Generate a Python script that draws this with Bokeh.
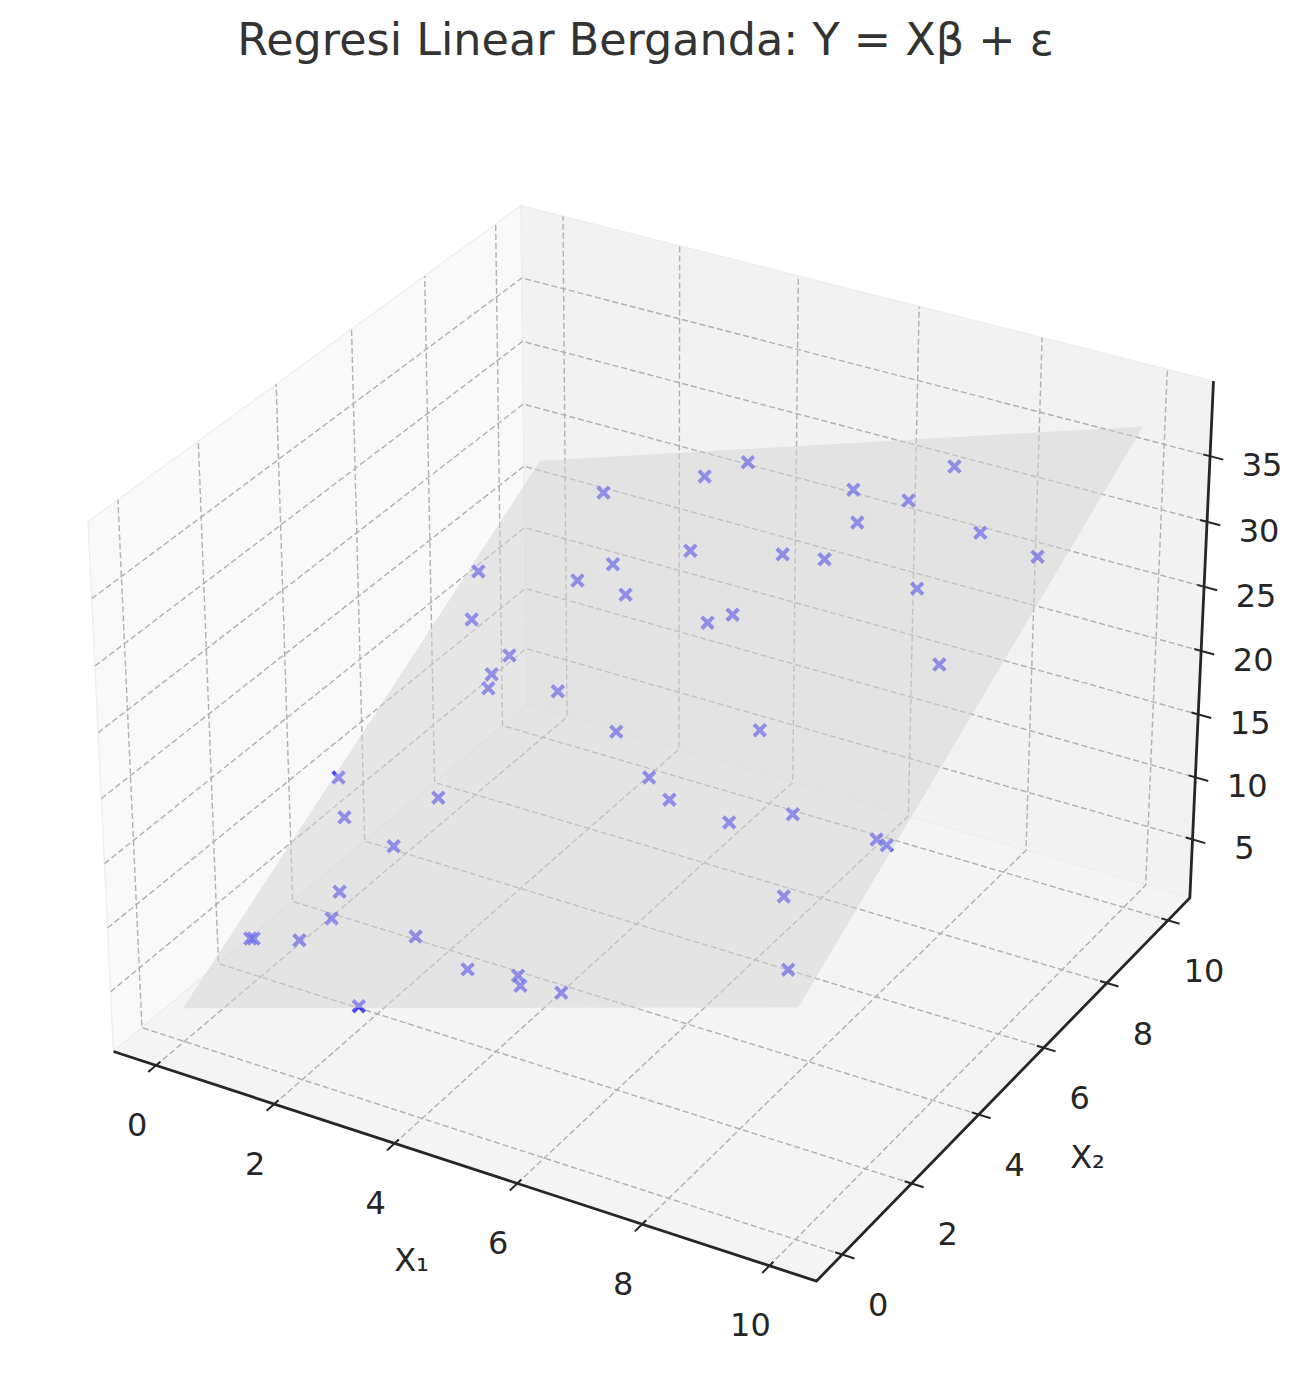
import numpy as np
from bokeh.plotting import figure
from bokeh.embed import file_html
from bokeh.resources import INLINE
from bokeh.core.properties import value

TITLE = "Regresi Linear Berganda: Y = Xβ + ε"
X_LABEL = "X₁"
Y_LABEL = "X₂"
x_ticks = [0, 2, 4, 6, 8, 10]
y_ticks = [0, 2, 4, 6, 8, 10]
z_ticks = [5, 10, 15, 20, 25, 30, 35]

x1 = [7.30,3.73,3.13,1.52,5.84,6.88,6.25,8.39,9.55,3.70,5.32,6.08,2.50,0.19,2.06,3.06,7.91,5.11,4.77,0.63,
      1.71,1.61,1.71,2.95,9.01,4.38,6.75,0.09,5.41,2.06,5.97,0.65,7.17,8.11,1.83,9.67,9.88,1.40,8.75,1.56,
      0.38,0.44,1.25,3.18,4.39,5.28,5.42,6.15,9.50,2.97]
x2 = [9.44,9.74,9.51,9.30,9.10,8.84,8.47,8.17,7.68,8.09,7.94,7.81,7.90,7.88,7.62,7.31,7.19,6.85,6.72,6.96,
      6.25,5.91,5.65,5.55,5.80,4.78,4.73,4.08,3.94,3.67,3.54,3.35,3.12,3.24,2.81,2.78,2.68,2.02,1.84,1.55,
      1.21,1.21,1.17,1.22,0.65,0.54,0.37,0.25,0.62,0.03]
y_obs = [32.73,27.98,26.62,23.78,29.86,30.90,29.22,31.83,32.59,24.63,26.76,27.64,22.45,18.95,21.23,22.11,29.15,24.27,23.50,17.77,
         17.97,17.14,16.77,18.43,28.02,19.03,22.49,11.20,18.90,13.33,18.94,10.58,19.90,21.55,11.27,22.97,23.08,9.04,19.71,8.34,
         5.89,5.98,7.12,10.11,10.79,11.90,11.77,12.63,18.39,7.42]

plane_x1 = [0, 10, 10, 0]
plane_x2 = [0, 0, 10, 10]
plane_y = [2.9, 17.9, 37.9, 22.9]

XL = (-0.729, 10.729)
YL = (-0.729, 10.729)
ZL = (0.25, 40.65)

# camera of a default 3D view: elevation 30, azimuth -60, box aspect 4:4:3
box = np.array([4, 4, 3.0]) * 1.8294640721620434 * 25 / 24 / np.sqrt(41)
u = np.array([np.cos(np.pi / 6), 0.5, 0])
w = np.array([np.cos(np.pi / 6) * 0.5, -0.75, 0.5])
v = np.cross(w, u)

def project(x, y, z):
    x, y, z = np.broadcast_arrays(np.asarray(x, float), np.asarray(y, float), np.asarray(z, float))
    q = np.stack([(x - XL[0]) / (XL[1] - XL[0]) - 0.5,
                  (y - YL[0]) / (YL[1] - YL[0]) - 0.5,
                  (z - ZL[0]) / (ZL[1] - ZL[0]) - 0.5], axis=-1) * box
    d = 10 - q @ w
    return 661.1 + 6764 * (q @ u) / d, 717 - 6764 * (q @ v) / d

p = figure(width=1288, height=1364, x_range=(0, 1288), y_range=(1364, 0),
           x_axis_location=None, y_axis_location=None, min_border=0,
           output_backend="svg", toolbar_location=None, outline_line_color=None,
           background_fill_color="white", border_fill_color="white")
p.grid.visible = False

x0, x1m = XL; y0, y1m = YL; z0, z1m = ZL
# panes
panes = [
    ([x0, x0, x0, x0], [y0, y1m, y1m, y0], [z0, z0, z1m, z1m], "#f9f9f9"),
    ([x0, x1m, x1m, x0], [y1m, y1m, y1m, y1m], [z0, z0, z1m, z1m], "#f2f2f2"),
    ([x0, x1m, x1m, x0], [y0, y0, y1m, y1m], [z0, z0, z0, z0], "#f4f4f4"),
]
for a, b, c, col in panes:
    sx, sy = project(a, b, c)
    p.patch(list(sx), list(sy), fill_color=col, line_color="#eeeeee", line_width=1.4)

# grid
gx, gy = [], []
for t in x_ticks:
    sx, sy = project([t, t, t], [y0, y1m, y1m], [z0, z0, z1m]); gx.append(list(sx)); gy.append(list(sy))
for t in y_ticks:
    sx, sy = project([x1m, x0, x0], [t, t, t], [z0, z0, z1m]); gx.append(list(sx)); gy.append(list(sy))
for t in z_ticks:
    sx, sy = project([x0, x0, x1m], [y0, y1m, y1m], [t, t, t]); gx.append(list(sx)); gy.append(list(sy))
p.multi_line(gx, gy, line_color="#b0b0b0", line_width=1.4, line_dash="6 3")

# axis lines
DARK = "#262626"
ax, ay = project([x0, x1m, x1m, x1m], [y0, y0, y1m, y1m], [z0, z0, z0, z1m])
p.line(list(ax), list(ay), line_color=DARK, line_width=2.8, line_join="miter")

# ticks and tick labels
tx, ty = [], []
lx, ly, lt = [], [], []
for t in x_ticks:
    sx, sy = project([t, t], [y0 - 0.2, y0 + 0.11], [z0, z0]); tx.append(list(sx)); ty.append(list(sy))
    cx, cy = project(t, y0, z0); lx.append(float(cx) - 19); ly.append(float(cy) + 59); lt.append(str(t))
for t in y_ticks:
    sx, sy = project([x1m - 0.11, x1m + 0.19], [t, t], [z0, z0]); tx.append(list(sx)); ty.append(list(sy))
    cx, cy = project(x1m, t, z0); lx.append(float(cx) + 36); ly.append(float(cy) + 50); lt.append(str(t))
for t in z_ticks:
    sx, sy = project([x1m - 0.11, x1m + 0.21], [y1m, y1m], [t, t]); tx.append(list(sx)); ty.append(list(sy))
    cx, cy = project(x1m, y1m, t); lx.append(float(cx) + 52); ly.append(float(cy) + 8.5); lt.append(str(t))
p.multi_line(tx, ty, line_color=DARK, line_width=2.0)
p.text(lx, ly, lt, text_font=value("DejaVu Sans"), text_font_size="32px", text_color=DARK,
       text_align="center", text_baseline="middle")

# observations, then the fitted plane over them
sx, sy = project(x1, x2, y_obs)
p.scatter(list(sx), list(sy), marker="x", size=16.5, line_color="#0000ff", line_width=4, line_alpha=0.7)
sx, sy = project(plane_x1, plane_x2, plane_y)
p.patch(list(sx), list(sy), fill_color="#d3d3d3", fill_alpha=0.5, line_color=None)

# labels
p.text([411], [1259], [X_LABEL], text_font=value("DejaVu Sans"), text_font_size="32px", text_color=DARK,
       text_align="center", text_baseline="middle")
p.text([1087], [1156], [Y_LABEL], text_font=value("DejaVu Sans"), text_font_size="32px", text_color=DARK,
       text_align="center", text_baseline="middle")
p.text([645], [39], [TITLE], text_font=value("DejaVu Sans"), text_font_size="44.5px", text_color="#333333",
       text_align="center", text_baseline="middle")

open("out.html", "w").write(file_html(p, INLINE))
